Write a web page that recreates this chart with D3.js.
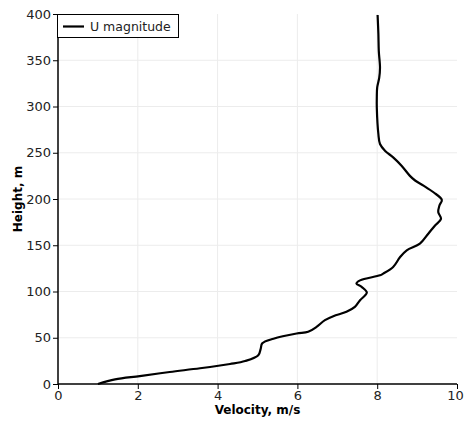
<!DOCTYPE html>
<html>
<head>
<meta charset="utf-8">
<script src="https://cdn.jsdelivr.net/npm/d3@7"></script>
<style>
  html, body { margin: 0; padding: 0; background: #fff; }
  svg text { font-family: "DejaVu Sans", sans-serif; }
</style>
</head>
<body>
<div id="chart"></div>
<script>
// Data: velocity (m/s) vs height (m)
const velocity = [1.0, 1.43, 2.05, 2.8, 3.56, 4.31, 4.69, 5.02, 5.08, 5.12, 5.4, 5.98, 6.27, 6.48, 6.69, 6.9, 7.23, 7.44, 7.57, 7.74, 7.61, 7.48, 7.57, 8.07, 8.15, 8.4, 8.57, 8.74, 9.07, 9.28, 9.45, 9.6, 9.53, 9.56, 9.62, 9.41, 9.16, 8.95, 8.82, 8.61, 8.4, 8.2, 8.07, 8.03, 7.99, 7.99, 8.0, 8.05, 8.07, 8.04, 8.03, 8.01];
const height   = [0, 5, 8.6, 13, 17, 21.6, 24.8, 31, 38, 44, 49, 54.6, 56.4, 61.8, 69, 73.3, 78, 83.3, 90.6, 98.8, 105, 108.6, 112, 117.5, 119.3, 126.5, 137, 144.5, 151.7, 162.5, 171.4, 178.6, 185.8, 193, 199, 207.3, 214.5, 220, 225, 236, 245, 252, 259.5, 270, 299, 310, 320.7, 331, 342, 360, 378, 399];
const xTicks = [0, 2, 4, 6, 8, 10];
const yTicks = [0, 50, 100, 150, 200, 250, 300, 350, 400];
const seriesName = "U magnitude";

(() => {
  const W = 464, H = 421;
  const M = { left: 58, right: 7, top: 14, bottom: 37 };

  const svg = d3.select("#chart").append("svg")
    .attr("width", W).attr("height", H);

  const x = d3.scaleLinear().domain([0, 10]).range([M.left, W - M.right]);
  const y = d3.scaleLinear().domain([0, 400]).range([H - M.bottom, M.top]);

  // grid
  svg.append("g").selectAll("line.vg")
    .data(xTicks.filter(t => t > 0 && t < 10))
    .join("line")
    .attr("x1", d => x(d)).attr("x2", d => x(d))
    .attr("y1", y(0)).attr("y2", y(400))
    .attr("stroke", "#ececec").attr("stroke-width", 1);
  svg.append("g").selectAll("line.hg")
    .data(yTicks.filter(t => t > 0 && t < 400))
    .join("line")
    .attr("x1", x(0)).attr("x2", x(10))
    .attr("y1", d => y(d)).attr("y2", d => y(d))
    .attr("stroke", "#ececec").attr("stroke-width", 1);

  // axes
  const xAxis = svg.append("g")
    .attr("transform", `translate(0,${y(0)})`)
    .call(d3.axisBottom(x).tickValues(xTicks).tickSize(5).tickPadding(2).tickFormat(d3.format("d")));
  const yAxis = svg.append("g")
    .attr("transform", `translate(${x(0)},0)`)
    .call(d3.axisLeft(y).tickValues(yTicks).tickSize(5).tickPadding(2).tickFormat(d3.format("d")));
  [xAxis, yAxis].forEach(a => {
    a.select(".domain").attr("stroke", "#000").attr("stroke-width", 1.5);
    a.selectAll(".tick line").attr("stroke", "#000");
    a.selectAll(".tick text").attr("fill", "#222").style("font-size", "13px");
  });
  xAxis.select(".domain").attr("d", `M${x(0)},0H${x(10)}`);
  yAxis.select(".domain").attr("d", `M0,${y(0)}V${y(400)}`);
  // keep the last x label inside the window
  xAxis.selectAll(".tick text").filter(d => d === 10).attr("dx", "-0.15em");

  // axis titles
  svg.append("text")
    .attr("x", (x(0) + x(10)) / 2).attr("y", 414)
    .attr("text-anchor", "middle")
    .style("font-size", "12px").style("font-weight", "bold")
    .text("Velocity, m/s");
  svg.append("text")
    .attr("transform", `translate(22,${(y(0) + y(400)) / 2}) rotate(-90)`)
    .attr("text-anchor", "middle")
    .style("font-size", "12px").style("font-weight", "bold")
    .text("Height, m");

  // line
  const pts = velocity.map((v, i) => [v, height[i]]);
  svg.append("path")
    .datum(pts)
    .attr("fill", "none")
    .attr("stroke", "#000")
    .attr("stroke-width", 2.2)
    .attr("stroke-linejoin", "round")
    .attr("d", d3.line().x(d => x(d[0])).y(d => y(d[1])).curve(d3.curveCatmullRom));

  // legend
  const lg = svg.append("g");
  lg.append("rect")
    .attr("x", 57.5).attr("y", 14.5).attr("width", 121).attr("height", 23)
    .attr("fill", "#fff").attr("stroke", "#000").attr("stroke-width", 1);
  lg.append("line")
    .attr("x1", 63).attr("x2", 84).attr("y1", 26.5).attr("y2", 26.5)
    .attr("stroke", "#000").attr("stroke-width", 2.2);
  lg.append("text")
    .attr("x", 90).attr("y", 31)
    .style("font-size", "12.5px").attr("fill", "#222")
    .text(seriesName);
})();
</script>
</body>
</html>
